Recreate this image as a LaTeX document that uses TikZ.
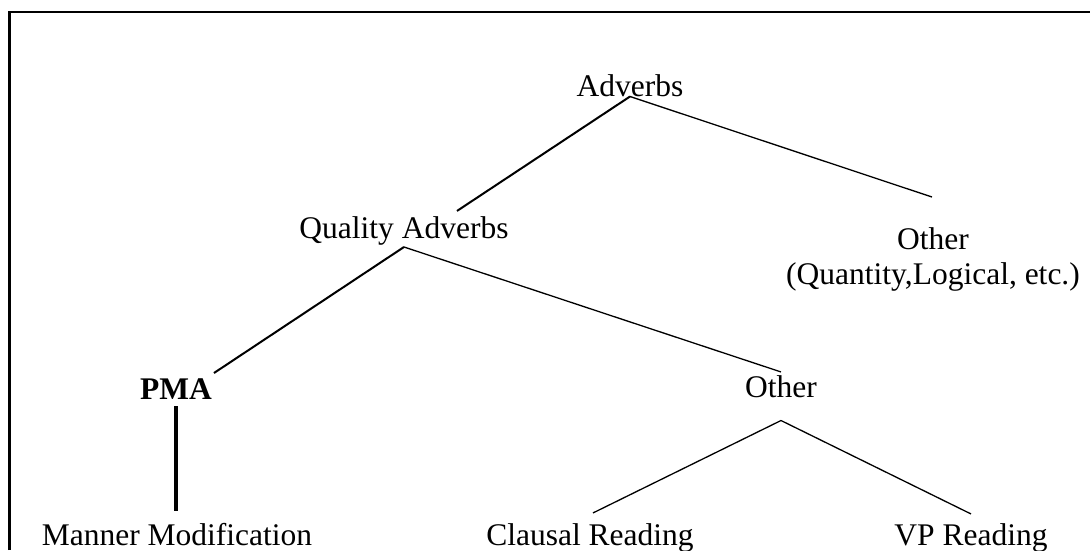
\documentclass[tikz,border=0pt]{standalone}
\usepackage{fontspec}
\setmainfont{Liberation Serif}

\begin{document}
\begin{tikzpicture}[x=1pt,y=-1pt]
  \fontsize{31.5}{35}\selectfont
  \useasboundingbox (0,0) rectangle (1090,550);
  \tikzstyle{every node}=[inner sep=0pt,anchor=base]
  \tikzstyle{thin}=[line width=1.3pt]
  \tikzstyle{thick}=[line width=2pt]

%% frame
  \draw[line width=2.7pt] (9.5,550) -- (9.5,12) -- (1090,12);

%% the tree
  \node (adv)  at (630,96)  {Adverbs};
  \node (qual) at (404,238) {Quality Adverbs};
  \node[anchor=north,align=center] (oth1) at (933,227) {Other\\(Quantity,Logical, etc.)};
  \node (pma)  at (176,399) {\bfseries PMA};
  \node (oth2) at (781,397) {Other};
  \node (mm)   at (177,545) {Manner Modification};
  \node (cla)  at (590,545) {Clausal Reading};
  \node (vpr)  at (971,545) {VP Reading};

%% connections
  \draw[thick] (adv.south) -- ([xshift=53pt,yshift=5pt] qual.north);
  \draw[thin]  (adv.south) -- ([xshift=-1pt,yshift=30pt] oth1.north);
  \draw[thick] ([yshift=-2pt] qual.south) -- ([xshift=38pt,yshift=5pt] pma.north);
  \draw[thin]  ([yshift=-2pt] qual.south) -- ([yshift=3pt] oth2.north);
  \draw[line width=3.5pt] ([yshift=-7pt] pma.south) -- ([xshift=-1pt,yshift=12pt] mm.north);
  \draw[thin]  ([yshift=-23pt] oth2.south) -- ([xshift=3pt,yshift=10pt] cla.north);
  \draw[thin]  ([yshift=-23pt] oth2.south) -- ([yshift=9pt] vpr.north);
\end{tikzpicture}
\end{document}
